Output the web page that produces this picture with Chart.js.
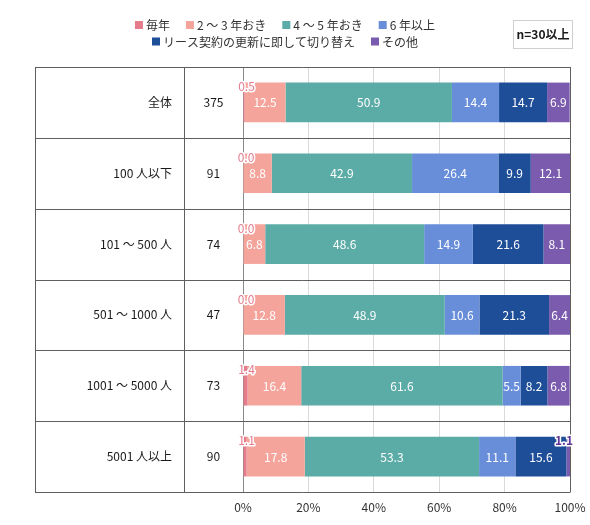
<!DOCTYPE html>
<html>
<head>
<meta charset="utf-8">
<script src="https://cdn.jsdelivr.net/npm/chart.js@4/dist/chart.umd.min.js"></script>
<style>
html, body { margin: 0; padding: 0; background: #fff; }
#wrap { width: 590px; height: 525px; }
</style>
</head>
<body>
<div id="wrap"><canvas id="grafico"></canvas></div>
<script>
// categorias e tamanho da amostra (n)
const categories = ['全体', '100 人以下', '101 ～ 500 人', '501 ～ 1000 人', '1001 ～ 5000 人', '5001 人以上'];
const sampleSizes = [375, 91, 74, 47, 73, 90];
const seriesNames = ['毎年', '2 ～ 3 年おき', '4 ～ 5 年おき', '6 年以上', 'リース契約の更新に即して切り替え', 'その他'];

// valores (%)
const everyYear   = [0.5, 0.0, 0.0, 0.0, 1.4, 1.1];
const every2to3   = [12.5, 8.8, 6.8, 12.8, 16.4, 17.8];
const every4to5   = [50.9, 42.9, 48.6, 48.9, 61.6, 53.3];
const over6       = [14.4, 26.4, 14.9, 10.6, 5.5, 11.1];
const leaseSwitch = [14.7, 9.9, 21.6, 21.3, 8.2, 15.6];
const others      = [6.9, 12.1, 8.1, 6.4, 6.8, 1.1];

const xTicks = [0, 20, 40, 60, 80, 100];

const colors = ['#E57C8C', '#F5A49C', '#5BABA6', '#688EDA', '#1F4E99', '#7A5BAD'];
const fam = '"Noto Sans CJK JP", "Noto Sans", sans-serif';
Chart.defaults.font.family = fam;

const allSeries = [everyYear, every2to3, every4to5, over6, leaseSwitch, others];

const tabela = {
    id: 'tabela',
    beforeDatasetsDraw(chart) {
        const { ctx, chartArea: a, scales: { y } } = chart;
        const left = a.left - 208;
        const divider = a.left - 59;
        const rowH = (a.bottom - a.top) / categories.length;
        ctx.save();
        ctx.strokeStyle = '#5f5f5f';
        ctx.lineWidth = 1;
        ctx.beginPath();
        for (let i = 0; i <= categories.length; i++) {
            const yy = Math.round(a.top + i * rowH) + 0.5;
            ctx.moveTo(left, yy);
            ctx.lineTo(a.right + 0.5, yy);
        }
        [left, divider, a.right].forEach(x => {
            const xx = Math.round(x) + 0.5;
            ctx.moveTo(xx, a.top);
            ctx.lineTo(xx, a.bottom);
        });
        ctx.stroke();
        ctx.fillStyle = '#1a1a1a';
        ctx.font = '12px ' + fam;
        ctx.textAlign = 'center';
        ctx.textBaseline = 'middle';
        sampleSizes.forEach((n, i) => {
            ctx.fillText(String(n), (divider + a.left) / 2, y.getPixelForValue(i));
        });
        ctx.restore();
    }
};

const rotulos = {
    id: 'rotulos',
    afterDatasetsDraw(chart) {
        const ctx = chart.ctx;
        const last = chart.data.datasets.length - 1;
        ctx.save();
        ctx.textAlign = 'center';
        ctx.textBaseline = 'middle';
        chart.data.datasets.forEach((ds, d) => {
            const meta = chart.getDatasetMeta(d);
            meta.data.forEach((bar, i) => {
                const v = ds.data[i];
                const txt = v.toFixed(1);
                const top = bar.y - bar.height / 2;
                if (v < 2) {
                    const x = d === 0 ? bar.base + 3 : bar.x - 6;
                    ctx.font = (d === last ? 'bold ' : '') + '12px ' + fam;
                    ctx.lineWidth = 3;
                    ctx.lineJoin = 'round';
                    ctx.strokeStyle = '#fff';
                    ctx.strokeText(txt, x, top + 4);
                    ctx.fillStyle = d === last ? '#5E3496' : '#E47C8E';
                    ctx.fillText(txt, x, top + 4);
                } else {
                    ctx.font = '12px ' + fam;
                    ctx.fillStyle = '#fff';
                    ctx.fillText(txt, (bar.x + bar.base) / 2, bar.y + 0.5);
                }
            });
        });
        ctx.restore();
    }
};

const legenda = {
    id: 'legenda',
    afterDraw(chart) {
        const ctx = chart.ctx;
        const rows = [[0, 1, 2, 3], [4, 5]];
        const cx = chart.chartArea.right / 2;
        ctx.save();
        ctx.font = '12px ' + fam;
        ctx.textAlign = 'left';
        ctx.textBaseline = 'middle';
        rows.forEach((row, r) => {
            const widths = row.map(i => 11 + ctx.measureText(seriesNames[i]).width);
            const total = widths.reduce((s, w) => s + w, 0) + 16 * (row.length - 1);
            let x = cx - total / 2;
            const yy = 25 + r * 16.5;
            row.forEach((i, k) => {
                ctx.fillStyle = colors[i];
                ctx.fillRect(x, yy - 4, 8, 8);
                ctx.fillStyle = '#333';
                ctx.fillText(seriesNames[i], x + 11, yy + 0.5);
                x += widths[k] + 16;
            });
        });
        // caixa n=30以上
        ctx.strokeStyle = '#cfcfcf';
        ctx.strokeRect(513.5, 20.5, 59, 28);
        ctx.fillStyle = '#1a1a1a';
        ctx.font = 'bold 12px ' + fam;
        ctx.textAlign = 'center';
        ctx.fillText('n=30以上', 543, 34.5);
        ctx.restore();
    }
};

const ctx = document.getElementById('grafico').getContext('2d');
const grafico = new Chart(ctx, {
    type: 'bar',
    data: {
        labels: categories,
        datasets: seriesNames.map((name, k) => ({
            label: name,
            data: allSeries[k],
            backgroundColor: colors[k],
            borderWidth: 0,
            categoryPercentage: 1,
            barPercentage: 0.56
        }))
    },
    options: {
        indexAxis: 'y',
        responsive: true,
        maintainAspectRatio: false,
        animation: false,
        layout: { padding: { top: 67, right: 20, bottom: 10.6, left: 0 } },
        plugins: {
            legend: { display: false },
            tooltip: { enabled: false }
        },
        scales: {
            x: {
                stacked: true,
                min: 0,
                max: 100,
                afterBuildTicks: (scale) => { scale.ticks = xTicks.map(v => ({ value: v })); },
                ticks: {
                    padding: 0,
                    color: '#333',
                    font: { size: 12 },
                    callback: (v) => v + '%'
                },
                grid: {
                    drawTicks: true,
                    tickLength: 8,
                    tickColor: 'rgba(0,0,0,0)',
                    color: (c) => c.tick && c.tick.value === 0 ? '#8a8a8a'
                        : (c.tick && c.tick.value === 100 ? 'rgba(0,0,0,0)' : '#dadada')
                },
                border: { display: false }
            },
            y: {
                stacked: true,
                afterFit: (scale) => { scale.width = 243; },
                ticks: {
                    padding: 0,
                    color: '#1a1a1a',
                    font: { size: 12 }
                },
                grid: { display: false, drawTicks: true, tickLength: 71 },
                border: { display: false }
            }
        }
    },
    plugins: [tabela, rotulos, legenda]
});
</script>
</body>
</html>
